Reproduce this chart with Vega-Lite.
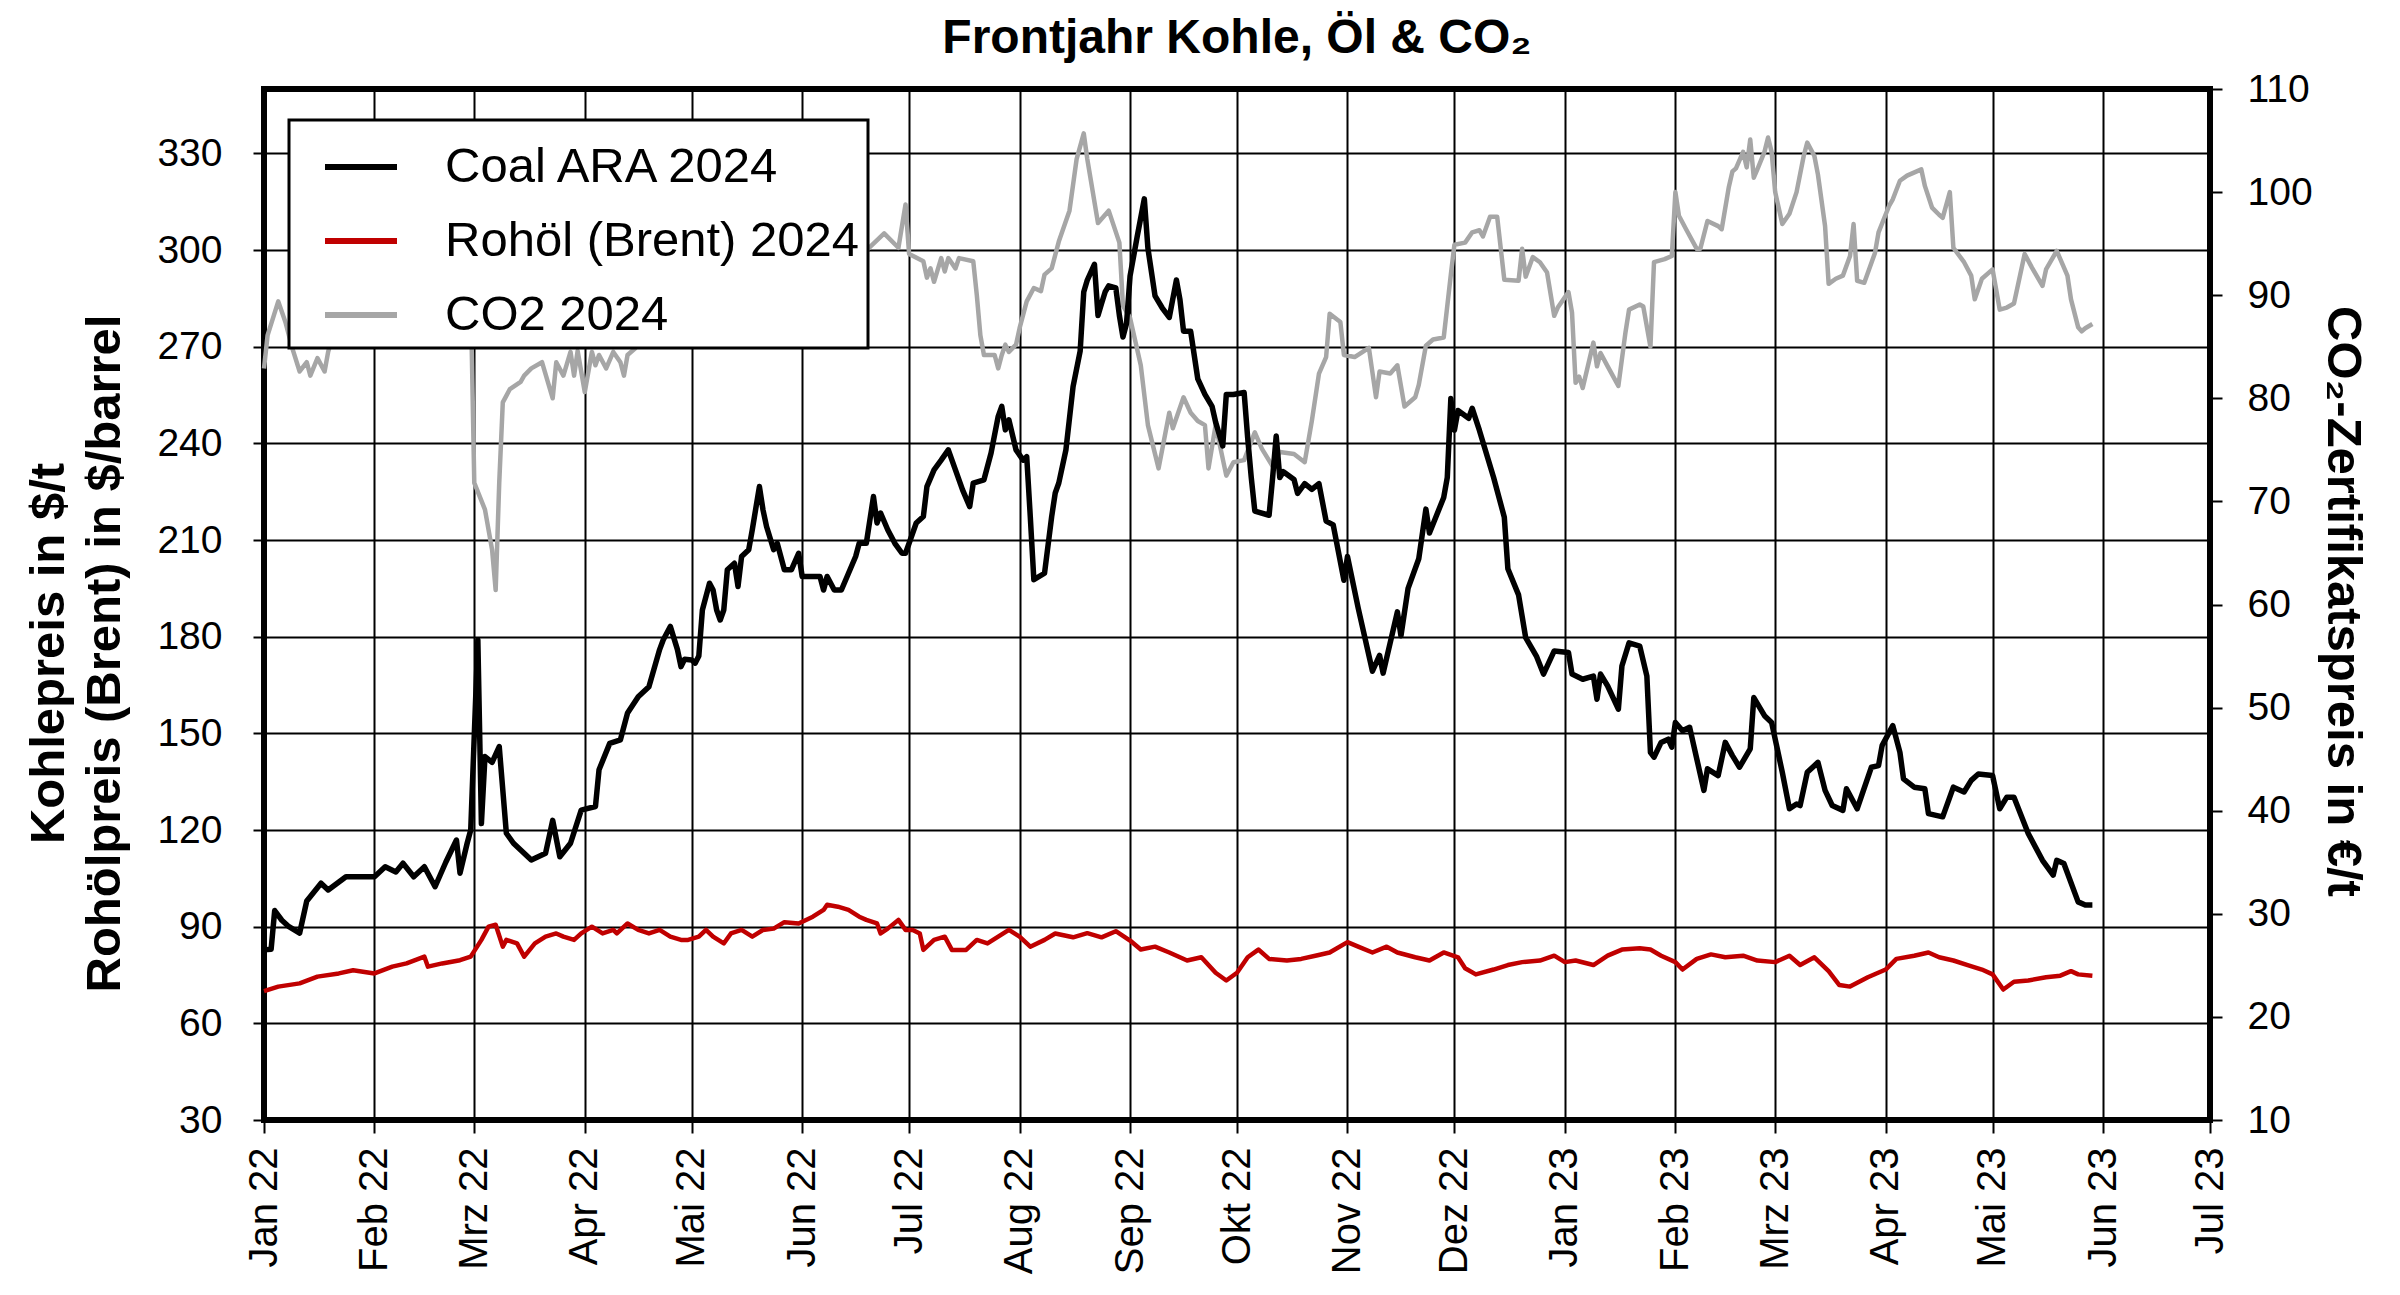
{
  "$schema": "https://vega.github.io/schema/vega-lite/v6.json",
  "autosize": {"type": "none"},
  "padding": {"left": 264, "top": 89, "right": 190, "bottom": 175},
  "width": 1946,
  "height": 1031,
  "background": "white",
  "title": {
    "text": "Frontjahr Kohle, Öl & CO₂",
    "font": "Liberation Sans",
    "fontSize": 48,
    "fontWeight": "bold",
    "color": "black",
    "anchor": "middle",
    "frame": "group",
    "baseline": "alphabetic",
    "offset": 26,
    "dy": 57
  },
  "datasets": {
    "coal": [
      {"d": "2022-01-01", "s": "Coal ARA 2024", "v": 82.8},
      {"d": "2022-01-03", "s": "Coal ARA 2024", "v": 83},
      {"d": "2022-01-04", "s": "Coal ARA 2024", "v": 95},
      {"d": "2022-01-06", "s": "Coal ARA 2024", "v": 92},
      {"d": "2022-01-08", "s": "Coal ARA 2024", "v": 90},
      {"d": "2022-01-11", "s": "Coal ARA 2024", "v": 88},
      {"d": "2022-01-13", "s": "Coal ARA 2024", "v": 98},
      {"d": "2022-01-17", "s": "Coal ARA 2024", "v": 103.5},
      {"d": "2022-01-19", "s": "Coal ARA 2024", "v": 101.4},
      {"d": "2022-01-24", "s": "Coal ARA 2024", "v": 105.5},
      {"d": "2022-02-01", "s": "Coal ARA 2024", "v": 105.5},
      {"d": "2022-02-04", "s": "Coal ARA 2024", "v": 108.6},
      {"d": "2022-02-07", "s": "Coal ARA 2024", "v": 107},
      {"d": "2022-02-09", "s": "Coal ARA 2024", "v": 109.7},
      {"d": "2022-02-12", "s": "Coal ARA 2024", "v": 105.5},
      {"d": "2022-02-15", "s": "Coal ARA 2024", "v": 108.6},
      {"d": "2022-02-18", "s": "Coal ARA 2024", "v": 102.4},
      {"d": "2022-02-21", "s": "Coal ARA 2024", "v": 110},
      {"d": "2022-02-24", "s": "Coal ARA 2024", "v": 116.9},
      {"d": "2022-02-25", "s": "Coal ARA 2024", "v": 106.6},
      {"d": "2022-02-27", "s": "Coal ARA 2024", "v": 115.9},
      {"d": "2022-02-28", "s": "Coal ARA 2024", "v": 120},
      {"d": "2022-03-02", "s": "Coal ARA 2024", "v": 179},
      {"d": "2022-03-03", "s": "Coal ARA 2024", "v": 122},
      {"d": "2022-03-04", "s": "Coal ARA 2024", "v": 142.8},
      {"d": "2022-03-06", "s": "Coal ARA 2024", "v": 141},
      {"d": "2022-03-08", "s": "Coal ARA 2024", "v": 145.9},
      {"d": "2022-03-10", "s": "Coal ARA 2024", "v": 119},
      {"d": "2022-03-12", "s": "Coal ARA 2024", "v": 115.9},
      {"d": "2022-03-17", "s": "Coal ARA 2024", "v": 110.7},
      {"d": "2022-03-21", "s": "Coal ARA 2024", "v": 112.8},
      {"d": "2022-03-23", "s": "Coal ARA 2024", "v": 123},
      {"d": "2022-03-25", "s": "Coal ARA 2024", "v": 111.7},
      {"d": "2022-03-28", "s": "Coal ARA 2024", "v": 115.9},
      {"d": "2022-03-31", "s": "Coal ARA 2024", "v": 126.2},
      {"d": "2022-04-04", "s": "Coal ARA 2024", "v": 127.3},
      {"d": "2022-04-05", "s": "Coal ARA 2024", "v": 138.7},
      {"d": "2022-04-08", "s": "Coal ARA 2024", "v": 146.9},
      {"d": "2022-04-11", "s": "Coal ARA 2024", "v": 148},
      {"d": "2022-04-13", "s": "Coal ARA 2024", "v": 156.3},
      {"d": "2022-04-16", "s": "Coal ARA 2024", "v": 161.4},
      {"d": "2022-04-19", "s": "Coal ARA 2024", "v": 164.5},
      {"d": "2022-04-22", "s": "Coal ARA 2024", "v": 176},
      {"d": "2022-04-23", "s": "Coal ARA 2024", "v": 179},
      {"d": "2022-04-25", "s": "Coal ARA 2024", "v": 183.2},
      {"d": "2022-04-27", "s": "Coal ARA 2024", "v": 176},
      {"d": "2022-04-28", "s": "Coal ARA 2024", "v": 170.7},
      {"d": "2022-04-29", "s": "Coal ARA 2024", "v": 173},
      {"d": "2022-05-01", "s": "Coal ARA 2024", "v": 172.8},
      {"d": "2022-05-02", "s": "Coal ARA 2024", "v": 171.8},
      {"d": "2022-05-03", "s": "Coal ARA 2024", "v": 174},
      {"d": "2022-05-04", "s": "Coal ARA 2024", "v": 188.3},
      {"d": "2022-05-06", "s": "Coal ARA 2024", "v": 196.6},
      {"d": "2022-05-07", "s": "Coal ARA 2024", "v": 194.5},
      {"d": "2022-05-08", "s": "Coal ARA 2024", "v": 188.3},
      {"d": "2022-05-09", "s": "Coal ARA 2024", "v": 185.2},
      {"d": "2022-05-10", "s": "Coal ARA 2024", "v": 188.3},
      {"d": "2022-05-11", "s": "Coal ARA 2024", "v": 200.8},
      {"d": "2022-05-13", "s": "Coal ARA 2024", "v": 202.8},
      {"d": "2022-05-14", "s": "Coal ARA 2024", "v": 195.6},
      {"d": "2022-05-15", "s": "Coal ARA 2024", "v": 204.9},
      {"d": "2022-05-17", "s": "Coal ARA 2024", "v": 207},
      {"d": "2022-05-18", "s": "Coal ARA 2024", "v": 213.2},
      {"d": "2022-05-20", "s": "Coal ARA 2024", "v": 226.6},
      {"d": "2022-05-21", "s": "Coal ARA 2024", "v": 219.4},
      {"d": "2022-05-22", "s": "Coal ARA 2024", "v": 214.2},
      {"d": "2022-05-24", "s": "Coal ARA 2024", "v": 207},
      {"d": "2022-05-25", "s": "Coal ARA 2024", "v": 209},
      {"d": "2022-05-27", "s": "Coal ARA 2024", "v": 200.8},
      {"d": "2022-05-29", "s": "Coal ARA 2024", "v": 200.8},
      {"d": "2022-05-31", "s": "Coal ARA 2024", "v": 205.9},
      {"d": "2022-06-01", "s": "Coal ARA 2024", "v": 198.7},
      {"d": "2022-06-03", "s": "Coal ARA 2024", "v": 198.7},
      {"d": "2022-06-06", "s": "Coal ARA 2024", "v": 198.7},
      {"d": "2022-06-07", "s": "Coal ARA 2024", "v": 194.5},
      {"d": "2022-06-08", "s": "Coal ARA 2024", "v": 198.7},
      {"d": "2022-06-10", "s": "Coal ARA 2024", "v": 194.5},
      {"d": "2022-06-12", "s": "Coal ARA 2024", "v": 194.5},
      {"d": "2022-06-14", "s": "Coal ARA 2024", "v": 199.7},
      {"d": "2022-06-16", "s": "Coal ARA 2024", "v": 204.9},
      {"d": "2022-06-17", "s": "Coal ARA 2024", "v": 209},
      {"d": "2022-06-19", "s": "Coal ARA 2024", "v": 209},
      {"d": "2022-06-21", "s": "Coal ARA 2024", "v": 223.5},
      {"d": "2022-06-22", "s": "Coal ARA 2024", "v": 215.3},
      {"d": "2022-06-23", "s": "Coal ARA 2024", "v": 218.4},
      {"d": "2022-06-25", "s": "Coal ARA 2024", "v": 213.2},
      {"d": "2022-06-27", "s": "Coal ARA 2024", "v": 209},
      {"d": "2022-06-29", "s": "Coal ARA 2024", "v": 205.9},
      {"d": "2022-06-30", "s": "Coal ARA 2024", "v": 205.9},
      {"d": "2022-07-01", "s": "Coal ARA 2024", "v": 209},
      {"d": "2022-07-03", "s": "Coal ARA 2024", "v": 215.3},
      {"d": "2022-07-05", "s": "Coal ARA 2024", "v": 217.3},
      {"d": "2022-07-06", "s": "Coal ARA 2024", "v": 226.6},
      {"d": "2022-07-08", "s": "Coal ARA 2024", "v": 231.8},
      {"d": "2022-07-10", "s": "Coal ARA 2024", "v": 234.8},
      {"d": "2022-07-12", "s": "Coal ARA 2024", "v": 238},
      {"d": "2022-07-14", "s": "Coal ARA 2024", "v": 231.8},
      {"d": "2022-07-16", "s": "Coal ARA 2024", "v": 225.6},
      {"d": "2022-07-18", "s": "Coal ARA 2024", "v": 220.4},
      {"d": "2022-07-19", "s": "Coal ARA 2024", "v": 227.7},
      {"d": "2022-07-22", "s": "Coal ARA 2024", "v": 228.7},
      {"d": "2022-07-24", "s": "Coal ARA 2024", "v": 237},
      {"d": "2022-07-26", "s": "Coal ARA 2024", "v": 248.4},
      {"d": "2022-07-27", "s": "Coal ARA 2024", "v": 251.5},
      {"d": "2022-07-28", "s": "Coal ARA 2024", "v": 244.2},
      {"d": "2022-07-29", "s": "Coal ARA 2024", "v": 247.3},
      {"d": "2022-07-31", "s": "Coal ARA 2024", "v": 238},
      {"d": "2022-08-02", "s": "Coal ARA 2024", "v": 234.8},
      {"d": "2022-08-03", "s": "Coal ARA 2024", "v": 235.9},
      {"d": "2022-08-04", "s": "Coal ARA 2024", "v": 217.3},
      {"d": "2022-08-05", "s": "Coal ARA 2024", "v": 197.7},
      {"d": "2022-08-08", "s": "Coal ARA 2024", "v": 199.7},
      {"d": "2022-08-10", "s": "Coal ARA 2024", "v": 217.3},
      {"d": "2022-08-11", "s": "Coal ARA 2024", "v": 224.6},
      {"d": "2022-08-12", "s": "Coal ARA 2024", "v": 227.7},
      {"d": "2022-08-14", "s": "Coal ARA 2024", "v": 238},
      {"d": "2022-08-16", "s": "Coal ARA 2024", "v": 257.6},
      {"d": "2022-08-18", "s": "Coal ARA 2024", "v": 268.7},
      {"d": "2022-08-19", "s": "Coal ARA 2024", "v": 287},
      {"d": "2022-08-20", "s": "Coal ARA 2024", "v": 290.7},
      {"d": "2022-08-22", "s": "Coal ARA 2024", "v": 295.6},
      {"d": "2022-08-23", "s": "Coal ARA 2024", "v": 279.7},
      {"d": "2022-08-24", "s": "Coal ARA 2024", "v": 283.4},
      {"d": "2022-08-25", "s": "Coal ARA 2024", "v": 287},
      {"d": "2022-08-26", "s": "Coal ARA 2024", "v": 288.9},
      {"d": "2022-08-28", "s": "Coal ARA 2024", "v": 288.3},
      {"d": "2022-08-29", "s": "Coal ARA 2024", "v": 279.7},
      {"d": "2022-08-30", "s": "Coal ARA 2024", "v": 273},
      {"d": "2022-08-31", "s": "Coal ARA 2024", "v": 277.2},
      {"d": "2022-09-01", "s": "Coal ARA 2024", "v": 292},
      {"d": "2022-09-03", "s": "Coal ARA 2024", "v": 304.2},
      {"d": "2022-09-05", "s": "Coal ARA 2024", "v": 315.9},
      {"d": "2022-09-06", "s": "Coal ARA 2024", "v": 300.6},
      {"d": "2022-09-08", "s": "Coal ARA 2024", "v": 285.8},
      {"d": "2022-09-10", "s": "Coal ARA 2024", "v": 282.1},
      {"d": "2022-09-12", "s": "Coal ARA 2024", "v": 279.1},
      {"d": "2022-09-14", "s": "Coal ARA 2024", "v": 290.7},
      {"d": "2022-09-15", "s": "Coal ARA 2024", "v": 284.6},
      {"d": "2022-09-16", "s": "Coal ARA 2024", "v": 274.8},
      {"d": "2022-09-18", "s": "Coal ARA 2024", "v": 274.8},
      {"d": "2022-09-20", "s": "Coal ARA 2024", "v": 260},
      {"d": "2022-09-22", "s": "Coal ARA 2024", "v": 255.2},
      {"d": "2022-09-24", "s": "Coal ARA 2024", "v": 251.5},
      {"d": "2022-09-25", "s": "Coal ARA 2024", "v": 246.6},
      {"d": "2022-09-27", "s": "Coal ARA 2024", "v": 239.2},
      {"d": "2022-09-28", "s": "Coal ARA 2024", "v": 255.2},
      {"d": "2022-09-30", "s": "Coal ARA 2024", "v": 255.2},
      {"d": "2022-10-03", "s": "Coal ARA 2024", "v": 255.8},
      {"d": "2022-10-04", "s": "Coal ARA 2024", "v": 241.7},
      {"d": "2022-10-05", "s": "Coal ARA 2024", "v": 229.4},
      {"d": "2022-10-06", "s": "Coal ARA 2024", "v": 219},
      {"d": "2022-10-10", "s": "Coal ARA 2024", "v": 217.7},
      {"d": "2022-10-11", "s": "Coal ARA 2024", "v": 229.4},
      {"d": "2022-10-12", "s": "Coal ARA 2024", "v": 242.3},
      {"d": "2022-10-13", "s": "Coal ARA 2024", "v": 229.4},
      {"d": "2022-10-14", "s": "Coal ARA 2024", "v": 231.2},
      {"d": "2022-10-17", "s": "Coal ARA 2024", "v": 228.8},
      {"d": "2022-10-18", "s": "Coal ARA 2024", "v": 224.5},
      {"d": "2022-10-20", "s": "Coal ARA 2024", "v": 227.5},
      {"d": "2022-10-22", "s": "Coal ARA 2024", "v": 225.7},
      {"d": "2022-10-24", "s": "Coal ARA 2024", "v": 227.5},
      {"d": "2022-10-26", "s": "Coal ARA 2024", "v": 215.9},
      {"d": "2022-10-28", "s": "Coal ARA 2024", "v": 214.7},
      {"d": "2022-10-31", "s": "Coal ARA 2024", "v": 197.5},
      {"d": "2022-11-01", "s": "Coal ARA 2024", "v": 204.9},
      {"d": "2022-11-04", "s": "Coal ARA 2024", "v": 188.9},
      {"d": "2022-11-08", "s": "Coal ARA 2024", "v": 169.3},
      {"d": "2022-11-10", "s": "Coal ARA 2024", "v": 174.2},
      {"d": "2022-11-11", "s": "Coal ARA 2024", "v": 168.7},
      {"d": "2022-11-15", "s": "Coal ARA 2024", "v": 187.7},
      {"d": "2022-11-16", "s": "Coal ARA 2024", "v": 180.3},
      {"d": "2022-11-18", "s": "Coal ARA 2024", "v": 195},
      {"d": "2022-11-21", "s": "Coal ARA 2024", "v": 204.2},
      {"d": "2022-11-23", "s": "Coal ARA 2024", "v": 219.6},
      {"d": "2022-11-24", "s": "Coal ARA 2024", "v": 212.2},
      {"d": "2022-11-28", "s": "Coal ARA 2024", "v": 223.2},
      {"d": "2022-11-29", "s": "Coal ARA 2024", "v": 229.4},
      {"d": "2022-11-30", "s": "Coal ARA 2024", "v": 253.9},
      {"d": "2022-12-01", "s": "Coal ARA 2024", "v": 244.1},
      {"d": "2022-12-02", "s": "Coal ARA 2024", "v": 250.2},
      {"d": "2022-12-05", "s": "Coal ARA 2024", "v": 247.8},
      {"d": "2022-12-06", "s": "Coal ARA 2024", "v": 250.9},
      {"d": "2022-12-08", "s": "Coal ARA 2024", "v": 244.1},
      {"d": "2022-12-12", "s": "Coal ARA 2024", "v": 229.4},
      {"d": "2022-12-15", "s": "Coal ARA 2024", "v": 217.1},
      {"d": "2022-12-16", "s": "Coal ARA 2024", "v": 201.1},
      {"d": "2022-12-19", "s": "Coal ARA 2024", "v": 193},
      {"d": "2022-12-21", "s": "Coal ARA 2024", "v": 179.7},
      {"d": "2022-12-24", "s": "Coal ARA 2024", "v": 174},
      {"d": "2022-12-26", "s": "Coal ARA 2024", "v": 168.4},
      {"d": "2022-12-29", "s": "Coal ARA 2024", "v": 175.6},
      {"d": "2023-01-02", "s": "Coal ARA 2024", "v": 175.1},
      {"d": "2023-01-03", "s": "Coal ARA 2024", "v": 168.4},
      {"d": "2023-01-06", "s": "Coal ARA 2024", "v": 166.8},
      {"d": "2023-01-09", "s": "Coal ARA 2024", "v": 167.8},
      {"d": "2023-01-10", "s": "Coal ARA 2024", "v": 160.6},
      {"d": "2023-01-11", "s": "Coal ARA 2024", "v": 168.4},
      {"d": "2023-01-13", "s": "Coal ARA 2024", "v": 164.7},
      {"d": "2023-01-16", "s": "Coal ARA 2024", "v": 157.5},
      {"d": "2023-01-17", "s": "Coal ARA 2024", "v": 170.9},
      {"d": "2023-01-19", "s": "Coal ARA 2024", "v": 178.1},
      {"d": "2023-01-22", "s": "Coal ARA 2024", "v": 177.1},
      {"d": "2023-01-24", "s": "Coal ARA 2024", "v": 167.8},
      {"d": "2023-01-25", "s": "Coal ARA 2024", "v": 144.1},
      {"d": "2023-01-26", "s": "Coal ARA 2024", "v": 142.6},
      {"d": "2023-01-28", "s": "Coal ARA 2024", "v": 147.2},
      {"d": "2023-01-30", "s": "Coal ARA 2024", "v": 148.2},
      {"d": "2023-01-31", "s": "Coal ARA 2024", "v": 145.7},
      {"d": "2023-02-01", "s": "Coal ARA 2024", "v": 153.4},
      {"d": "2023-02-03", "s": "Coal ARA 2024", "v": 150.8},
      {"d": "2023-02-05", "s": "Coal ARA 2024", "v": 151.9},
      {"d": "2023-02-07", "s": "Coal ARA 2024", "v": 142.1},
      {"d": "2023-02-09", "s": "Coal ARA 2024", "v": 132.3},
      {"d": "2023-02-10", "s": "Coal ARA 2024", "v": 139},
      {"d": "2023-02-13", "s": "Coal ARA 2024", "v": 136.9},
      {"d": "2023-02-15", "s": "Coal ARA 2024", "v": 147.2},
      {"d": "2023-02-17", "s": "Coal ARA 2024", "v": 143.1},
      {"d": "2023-02-19", "s": "Coal ARA 2024", "v": 139.5},
      {"d": "2023-02-22", "s": "Coal ARA 2024", "v": 145.2},
      {"d": "2023-02-23", "s": "Coal ARA 2024", "v": 161.1},
      {"d": "2023-02-26", "s": "Coal ARA 2024", "v": 155.5},
      {"d": "2023-02-28", "s": "Coal ARA 2024", "v": 153.4},
      {"d": "2023-03-03", "s": "Coal ARA 2024", "v": 137.9},
      {"d": "2023-03-05", "s": "Coal ARA 2024", "v": 126.6},
      {"d": "2023-03-07", "s": "Coal ARA 2024", "v": 128.1},
      {"d": "2023-03-08", "s": "Coal ARA 2024", "v": 127.6},
      {"d": "2023-03-10", "s": "Coal ARA 2024", "v": 137.9},
      {"d": "2023-03-13", "s": "Coal ARA 2024", "v": 141},
      {"d": "2023-03-15", "s": "Coal ARA 2024", "v": 132.3},
      {"d": "2023-03-17", "s": "Coal ARA 2024", "v": 127.6},
      {"d": "2023-03-20", "s": "Coal ARA 2024", "v": 126.1},
      {"d": "2023-03-21", "s": "Coal ARA 2024", "v": 132.8},
      {"d": "2023-03-24", "s": "Coal ARA 2024", "v": 126.6},
      {"d": "2023-03-28", "s": "Coal ARA 2024", "v": 139.5},
      {"d": "2023-03-30", "s": "Coal ARA 2024", "v": 140},
      {"d": "2023-03-31", "s": "Coal ARA 2024", "v": 146.2},
      {"d": "2023-04-03", "s": "Coal ARA 2024", "v": 152.4},
      {"d": "2023-04-05", "s": "Coal ARA 2024", "v": 144.1},
      {"d": "2023-04-06", "s": "Coal ARA 2024", "v": 135.9},
      {"d": "2023-04-09", "s": "Coal ARA 2024", "v": 133.3},
      {"d": "2023-04-12", "s": "Coal ARA 2024", "v": 132.8},
      {"d": "2023-04-13", "s": "Coal ARA 2024", "v": 125.1},
      {"d": "2023-04-17", "s": "Coal ARA 2024", "v": 124.1},
      {"d": "2023-04-20", "s": "Coal ARA 2024", "v": 133.3},
      {"d": "2023-04-23", "s": "Coal ARA 2024", "v": 131.8},
      {"d": "2023-04-25", "s": "Coal ARA 2024", "v": 135.4},
      {"d": "2023-04-27", "s": "Coal ARA 2024", "v": 137.4},
      {"d": "2023-05-01", "s": "Coal ARA 2024", "v": 136.9},
      {"d": "2023-05-03", "s": "Coal ARA 2024", "v": 126.6},
      {"d": "2023-05-05", "s": "Coal ARA 2024", "v": 130.2},
      {"d": "2023-05-07", "s": "Coal ARA 2024", "v": 130.2},
      {"d": "2023-05-11", "s": "Coal ARA 2024", "v": 118.9},
      {"d": "2023-05-15", "s": "Coal ARA 2024", "v": 110.6},
      {"d": "2023-05-18", "s": "Coal ARA 2024", "v": 106},
      {"d": "2023-05-19", "s": "Coal ARA 2024", "v": 110.6},
      {"d": "2023-05-21", "s": "Coal ARA 2024", "v": 109.6},
      {"d": "2023-05-25", "s": "Coal ARA 2024", "v": 97.7},
      {"d": "2023-05-27", "s": "Coal ARA 2024", "v": 96.7},
      {"d": "2023-05-29", "s": "Coal ARA 2024", "v": 96.7}
    ],
    "oil": [
      {"d": "2022-01-01", "s": "Rohöl (Brent) 2024", "v": 70},
      {"d": "2022-01-05", "s": "Rohöl (Brent) 2024", "v": 71.4},
      {"d": "2022-01-11", "s": "Rohöl (Brent) 2024", "v": 72.4},
      {"d": "2022-01-16", "s": "Rohöl (Brent) 2024", "v": 74.5},
      {"d": "2022-01-22", "s": "Rohöl (Brent) 2024", "v": 75.5},
      {"d": "2022-01-26", "s": "Rohöl (Brent) 2024", "v": 76.5},
      {"d": "2022-02-01", "s": "Rohöl (Brent) 2024", "v": 75.5},
      {"d": "2022-02-06", "s": "Rohöl (Brent) 2024", "v": 77.6},
      {"d": "2022-02-10", "s": "Rohöl (Brent) 2024", "v": 78.6},
      {"d": "2022-02-15", "s": "Rohöl (Brent) 2024", "v": 80.7},
      {"d": "2022-02-16", "s": "Rohöl (Brent) 2024", "v": 77.6},
      {"d": "2022-02-20", "s": "Rohöl (Brent) 2024", "v": 78.6},
      {"d": "2022-02-25", "s": "Rohöl (Brent) 2024", "v": 79.6},
      {"d": "2022-02-28", "s": "Rohöl (Brent) 2024", "v": 80.7},
      {"d": "2022-03-03", "s": "Rohöl (Brent) 2024", "v": 85.9},
      {"d": "2022-03-05", "s": "Rohöl (Brent) 2024", "v": 90},
      {"d": "2022-03-07", "s": "Rohöl (Brent) 2024", "v": 90.6},
      {"d": "2022-03-09", "s": "Rohöl (Brent) 2024", "v": 83.8},
      {"d": "2022-03-10", "s": "Rohöl (Brent) 2024", "v": 85.9},
      {"d": "2022-03-13", "s": "Rohöl (Brent) 2024", "v": 84.8},
      {"d": "2022-03-15", "s": "Rohöl (Brent) 2024", "v": 80.7},
      {"d": "2022-03-18", "s": "Rohöl (Brent) 2024", "v": 84.8},
      {"d": "2022-03-21", "s": "Rohöl (Brent) 2024", "v": 86.9},
      {"d": "2022-03-24", "s": "Rohöl (Brent) 2024", "v": 87.9},
      {"d": "2022-03-26", "s": "Rohöl (Brent) 2024", "v": 86.9},
      {"d": "2022-03-29", "s": "Rohöl (Brent) 2024", "v": 85.9},
      {"d": "2022-03-31", "s": "Rohöl (Brent) 2024", "v": 87.9},
      {"d": "2022-04-03", "s": "Rohöl (Brent) 2024", "v": 90},
      {"d": "2022-04-06", "s": "Rohöl (Brent) 2024", "v": 87.9},
      {"d": "2022-04-09", "s": "Rohöl (Brent) 2024", "v": 89},
      {"d": "2022-04-10", "s": "Rohöl (Brent) 2024", "v": 87.9},
      {"d": "2022-04-13", "s": "Rohöl (Brent) 2024", "v": 91},
      {"d": "2022-04-16", "s": "Rohöl (Brent) 2024", "v": 89},
      {"d": "2022-04-19", "s": "Rohöl (Brent) 2024", "v": 87.9},
      {"d": "2022-04-22", "s": "Rohöl (Brent) 2024", "v": 89},
      {"d": "2022-04-25", "s": "Rohöl (Brent) 2024", "v": 86.9},
      {"d": "2022-04-28", "s": "Rohöl (Brent) 2024", "v": 85.9},
      {"d": "2022-04-30", "s": "Rohöl (Brent) 2024", "v": 85.9},
      {"d": "2022-05-03", "s": "Rohöl (Brent) 2024", "v": 86.9},
      {"d": "2022-05-05", "s": "Rohöl (Brent) 2024", "v": 89},
      {"d": "2022-05-07", "s": "Rohöl (Brent) 2024", "v": 86.9},
      {"d": "2022-05-10", "s": "Rohöl (Brent) 2024", "v": 84.8},
      {"d": "2022-05-12", "s": "Rohöl (Brent) 2024", "v": 87.9},
      {"d": "2022-05-15", "s": "Rohöl (Brent) 2024", "v": 89},
      {"d": "2022-05-18", "s": "Rohöl (Brent) 2024", "v": 86.9},
      {"d": "2022-05-21", "s": "Rohöl (Brent) 2024", "v": 89},
      {"d": "2022-05-24", "s": "Rohöl (Brent) 2024", "v": 89.4},
      {"d": "2022-05-27", "s": "Rohöl (Brent) 2024", "v": 91.4},
      {"d": "2022-05-31", "s": "Rohöl (Brent) 2024", "v": 91},
      {"d": "2022-06-04", "s": "Rohöl (Brent) 2024", "v": 93.1},
      {"d": "2022-06-07", "s": "Rohöl (Brent) 2024", "v": 95.2},
      {"d": "2022-06-08", "s": "Rohöl (Brent) 2024", "v": 96.8},
      {"d": "2022-06-11", "s": "Rohöl (Brent) 2024", "v": 96.2},
      {"d": "2022-06-14", "s": "Rohöl (Brent) 2024", "v": 95.2},
      {"d": "2022-06-17", "s": "Rohöl (Brent) 2024", "v": 93.1},
      {"d": "2022-06-19", "s": "Rohöl (Brent) 2024", "v": 92.1},
      {"d": "2022-06-22", "s": "Rohöl (Brent) 2024", "v": 91},
      {"d": "2022-06-23", "s": "Rohöl (Brent) 2024", "v": 87.9},
      {"d": "2022-06-25", "s": "Rohöl (Brent) 2024", "v": 89.4},
      {"d": "2022-06-28", "s": "Rohöl (Brent) 2024", "v": 92.1},
      {"d": "2022-06-30", "s": "Rohöl (Brent) 2024", "v": 89},
      {"d": "2022-07-02", "s": "Rohöl (Brent) 2024", "v": 89},
      {"d": "2022-07-04", "s": "Rohöl (Brent) 2024", "v": 87.9},
      {"d": "2022-07-05", "s": "Rohöl (Brent) 2024", "v": 82.8},
      {"d": "2022-07-08", "s": "Rohöl (Brent) 2024", "v": 85.9},
      {"d": "2022-07-11", "s": "Rohöl (Brent) 2024", "v": 86.9},
      {"d": "2022-07-13", "s": "Rohöl (Brent) 2024", "v": 82.8},
      {"d": "2022-07-17", "s": "Rohöl (Brent) 2024", "v": 82.8},
      {"d": "2022-07-20", "s": "Rohöl (Brent) 2024", "v": 85.9},
      {"d": "2022-07-23", "s": "Rohöl (Brent) 2024", "v": 84.8},
      {"d": "2022-07-26", "s": "Rohöl (Brent) 2024", "v": 86.9},
      {"d": "2022-07-29", "s": "Rohöl (Brent) 2024", "v": 89},
      {"d": "2022-08-01", "s": "Rohöl (Brent) 2024", "v": 86.9},
      {"d": "2022-08-04", "s": "Rohöl (Brent) 2024", "v": 83.8},
      {"d": "2022-08-08", "s": "Rohöl (Brent) 2024", "v": 85.9},
      {"d": "2022-08-11", "s": "Rohöl (Brent) 2024", "v": 87.9},
      {"d": "2022-08-16", "s": "Rohöl (Brent) 2024", "v": 86.7},
      {"d": "2022-08-20", "s": "Rohöl (Brent) 2024", "v": 88},
      {"d": "2022-08-24", "s": "Rohöl (Brent) 2024", "v": 86.7},
      {"d": "2022-08-28", "s": "Rohöl (Brent) 2024", "v": 88.6},
      {"d": "2022-09-01", "s": "Rohöl (Brent) 2024", "v": 85.7},
      {"d": "2022-09-04", "s": "Rohöl (Brent) 2024", "v": 82.9},
      {"d": "2022-09-08", "s": "Rohöl (Brent) 2024", "v": 83.8},
      {"d": "2022-09-12", "s": "Rohöl (Brent) 2024", "v": 82},
      {"d": "2022-09-17", "s": "Rohöl (Brent) 2024", "v": 79.5},
      {"d": "2022-09-21", "s": "Rohöl (Brent) 2024", "v": 80.5},
      {"d": "2022-09-25", "s": "Rohöl (Brent) 2024", "v": 75.7},
      {"d": "2022-09-28", "s": "Rohöl (Brent) 2024", "v": 73.3},
      {"d": "2022-10-01", "s": "Rohöl (Brent) 2024", "v": 75.7},
      {"d": "2022-10-04", "s": "Rohöl (Brent) 2024", "v": 80.5},
      {"d": "2022-10-07", "s": "Rohöl (Brent) 2024", "v": 82.9},
      {"d": "2022-10-10", "s": "Rohöl (Brent) 2024", "v": 80},
      {"d": "2022-10-15", "s": "Rohöl (Brent) 2024", "v": 79.5},
      {"d": "2022-10-19", "s": "Rohöl (Brent) 2024", "v": 80},
      {"d": "2022-10-23", "s": "Rohöl (Brent) 2024", "v": 81},
      {"d": "2022-10-27", "s": "Rohöl (Brent) 2024", "v": 82},
      {"d": "2022-11-01", "s": "Rohöl (Brent) 2024", "v": 85.2},
      {"d": "2022-11-04", "s": "Rohöl (Brent) 2024", "v": 83.8},
      {"d": "2022-11-08", "s": "Rohöl (Brent) 2024", "v": 82},
      {"d": "2022-11-12", "s": "Rohöl (Brent) 2024", "v": 83.8},
      {"d": "2022-11-15", "s": "Rohöl (Brent) 2024", "v": 82},
      {"d": "2022-11-20", "s": "Rohöl (Brent) 2024", "v": 80.5},
      {"d": "2022-11-24", "s": "Rohöl (Brent) 2024", "v": 79.5},
      {"d": "2022-11-28", "s": "Rohöl (Brent) 2024", "v": 82},
      {"d": "2022-12-02", "s": "Rohöl (Brent) 2024", "v": 80.5},
      {"d": "2022-12-04", "s": "Rohöl (Brent) 2024", "v": 77.1},
      {"d": "2022-12-07", "s": "Rohöl (Brent) 2024", "v": 75.2},
      {"d": "2022-12-12", "s": "Rohöl (Brent) 2024", "v": 76.7},
      {"d": "2022-12-16", "s": "Rohöl (Brent) 2024", "v": 78.1},
      {"d": "2022-12-20", "s": "Rohöl (Brent) 2024", "v": 79},
      {"d": "2022-12-25", "s": "Rohöl (Brent) 2024", "v": 79.5},
      {"d": "2022-12-29", "s": "Rohöl (Brent) 2024", "v": 81},
      {"d": "2023-01-01", "s": "Rohöl (Brent) 2024", "v": 79},
      {"d": "2023-01-04", "s": "Rohöl (Brent) 2024", "v": 79.5},
      {"d": "2023-01-09", "s": "Rohöl (Brent) 2024", "v": 78.1},
      {"d": "2023-01-13", "s": "Rohöl (Brent) 2024", "v": 81},
      {"d": "2023-01-17", "s": "Rohöl (Brent) 2024", "v": 82.9},
      {"d": "2023-01-22", "s": "Rohöl (Brent) 2024", "v": 83.3},
      {"d": "2023-01-25", "s": "Rohöl (Brent) 2024", "v": 82.9},
      {"d": "2023-01-28", "s": "Rohöl (Brent) 2024", "v": 81},
      {"d": "2023-02-01", "s": "Rohöl (Brent) 2024", "v": 79},
      {"d": "2023-02-03", "s": "Rohöl (Brent) 2024", "v": 76.7},
      {"d": "2023-02-07", "s": "Rohöl (Brent) 2024", "v": 80},
      {"d": "2023-02-11", "s": "Rohöl (Brent) 2024", "v": 81.4},
      {"d": "2023-02-15", "s": "Rohöl (Brent) 2024", "v": 80.5},
      {"d": "2023-02-20", "s": "Rohöl (Brent) 2024", "v": 81},
      {"d": "2023-02-24", "s": "Rohöl (Brent) 2024", "v": 79.5},
      {"d": "2023-03-01", "s": "Rohöl (Brent) 2024", "v": 79},
      {"d": "2023-03-05", "s": "Rohöl (Brent) 2024", "v": 81},
      {"d": "2023-03-08", "s": "Rohöl (Brent) 2024", "v": 78.1},
      {"d": "2023-03-12", "s": "Rohöl (Brent) 2024", "v": 80.5},
      {"d": "2023-03-16", "s": "Rohöl (Brent) 2024", "v": 76.2},
      {"d": "2023-03-19", "s": "Rohöl (Brent) 2024", "v": 71.9},
      {"d": "2023-03-22", "s": "Rohöl (Brent) 2024", "v": 71.4},
      {"d": "2023-03-27", "s": "Rohöl (Brent) 2024", "v": 74.3},
      {"d": "2023-04-01", "s": "Rohöl (Brent) 2024", "v": 76.7},
      {"d": "2023-04-04", "s": "Rohöl (Brent) 2024", "v": 80},
      {"d": "2023-04-09", "s": "Rohöl (Brent) 2024", "v": 81},
      {"d": "2023-04-13", "s": "Rohöl (Brent) 2024", "v": 82},
      {"d": "2023-04-16", "s": "Rohöl (Brent) 2024", "v": 80.5},
      {"d": "2023-04-20", "s": "Rohöl (Brent) 2024", "v": 79.5},
      {"d": "2023-04-24", "s": "Rohöl (Brent) 2024", "v": 78.1},
      {"d": "2023-04-28", "s": "Rohöl (Brent) 2024", "v": 76.7},
      {"d": "2023-05-01", "s": "Rohöl (Brent) 2024", "v": 75.2},
      {"d": "2023-05-04", "s": "Rohöl (Brent) 2024", "v": 70.5},
      {"d": "2023-05-07", "s": "Rohöl (Brent) 2024", "v": 72.9},
      {"d": "2023-05-11", "s": "Rohöl (Brent) 2024", "v": 73.3},
      {"d": "2023-05-16", "s": "Rohöl (Brent) 2024", "v": 74.3},
      {"d": "2023-05-20", "s": "Rohöl (Brent) 2024", "v": 74.8},
      {"d": "2023-05-23", "s": "Rohöl (Brent) 2024", "v": 76.2},
      {"d": "2023-05-25", "s": "Rohöl (Brent) 2024", "v": 75.2},
      {"d": "2023-05-29", "s": "Rohöl (Brent) 2024", "v": 74.8}
    ],
    "co2": [
      {"d": "2022-01-01", "s": "CO2 2024", "v": 82.9},
      {"d": "2022-01-02", "s": "CO2 2024", "v": 86.1},
      {"d": "2022-01-05", "s": "CO2 2024", "v": 89.4},
      {"d": "2022-01-07", "s": "CO2 2024", "v": 87.4},
      {"d": "2022-01-09", "s": "CO2 2024", "v": 84.8},
      {"d": "2022-01-11", "s": "CO2 2024", "v": 82.6},
      {"d": "2022-01-13", "s": "CO2 2024", "v": 83.5},
      {"d": "2022-01-14", "s": "CO2 2024", "v": 82.2},
      {"d": "2022-01-16", "s": "CO2 2024", "v": 83.9},
      {"d": "2022-01-18", "s": "CO2 2024", "v": 82.6},
      {"d": "2022-01-19", "s": "CO2 2024", "v": 84.5},
      {"d": "2022-01-21", "s": "CO2 2024", "v": 87},
      {"d": "2022-01-25", "s": "CO2 2024", "v": 86},
      {"d": "2022-01-28", "s": "CO2 2024", "v": 88},
      {"d": "2022-02-01", "s": "CO2 2024", "v": 90},
      {"d": "2022-02-04", "s": "CO2 2024", "v": 92},
      {"d": "2022-02-08", "s": "CO2 2024", "v": 95},
      {"d": "2022-02-11", "s": "CO2 2024", "v": 94},
      {"d": "2022-02-15", "s": "CO2 2024", "v": 96},
      {"d": "2022-02-18", "s": "CO2 2024", "v": 97},
      {"d": "2022-02-22", "s": "CO2 2024", "v": 94},
      {"d": "2022-02-25", "s": "CO2 2024", "v": 92},
      {"d": "2022-02-28", "s": "CO2 2024", "v": 90},
      {"d": "2022-03-01", "s": "CO2 2024", "v": 71.8},
      {"d": "2022-03-04", "s": "CO2 2024", "v": 69.2},
      {"d": "2022-03-06", "s": "CO2 2024", "v": 65.3},
      {"d": "2022-03-07", "s": "CO2 2024", "v": 61.4},
      {"d": "2022-03-08", "s": "CO2 2024", "v": 71.8},
      {"d": "2022-03-09", "s": "CO2 2024", "v": 79.6},
      {"d": "2022-03-11", "s": "CO2 2024", "v": 80.9},
      {"d": "2022-03-14", "s": "CO2 2024", "v": 81.6},
      {"d": "2022-03-15", "s": "CO2 2024", "v": 82.2},
      {"d": "2022-03-17", "s": "CO2 2024", "v": 82.9},
      {"d": "2022-03-20", "s": "CO2 2024", "v": 83.5},
      {"d": "2022-03-23", "s": "CO2 2024", "v": 80},
      {"d": "2022-03-24", "s": "CO2 2024", "v": 83.5},
      {"d": "2022-03-26", "s": "CO2 2024", "v": 82.2},
      {"d": "2022-03-28", "s": "CO2 2024", "v": 84.5},
      {"d": "2022-03-29", "s": "CO2 2024", "v": 82.2},
      {"d": "2022-03-30", "s": "CO2 2024", "v": 84.6},
      {"d": "2022-04-01", "s": "CO2 2024", "v": 80.6},
      {"d": "2022-04-03", "s": "CO2 2024", "v": 84.5},
      {"d": "2022-04-04", "s": "CO2 2024", "v": 83.2},
      {"d": "2022-04-05", "s": "CO2 2024", "v": 84.2},
      {"d": "2022-04-07", "s": "CO2 2024", "v": 82.9},
      {"d": "2022-04-09", "s": "CO2 2024", "v": 84.5},
      {"d": "2022-04-11", "s": "CO2 2024", "v": 83.5},
      {"d": "2022-04-12", "s": "CO2 2024", "v": 82.2},
      {"d": "2022-04-13", "s": "CO2 2024", "v": 84.2},
      {"d": "2022-04-15", "s": "CO2 2024", "v": 84.8},
      {"d": "2022-04-20", "s": "CO2 2024", "v": 87},
      {"d": "2022-04-26", "s": "CO2 2024", "v": 86.5},
      {"d": "2022-05-02", "s": "CO2 2024", "v": 88},
      {"d": "2022-05-06", "s": "CO2 2024", "v": 90},
      {"d": "2022-05-12", "s": "CO2 2024", "v": 89},
      {"d": "2022-05-18", "s": "CO2 2024", "v": 91},
      {"d": "2022-05-24", "s": "CO2 2024", "v": 92},
      {"d": "2022-05-31", "s": "CO2 2024", "v": 93},
      {"d": "2022-06-06", "s": "CO2 2024", "v": 95},
      {"d": "2022-06-12", "s": "CO2 2024", "v": 93},
      {"d": "2022-06-18", "s": "CO2 2024", "v": 94},
      {"d": "2022-06-24", "s": "CO2 2024", "v": 96},
      {"d": "2022-06-28", "s": "CO2 2024", "v": 94.6},
      {"d": "2022-06-30", "s": "CO2 2024", "v": 98.8},
      {"d": "2022-07-01", "s": "CO2 2024", "v": 94},
      {"d": "2022-07-05", "s": "CO2 2024", "v": 93.3},
      {"d": "2022-07-06", "s": "CO2 2024", "v": 91.7},
      {"d": "2022-07-07", "s": "CO2 2024", "v": 92.6},
      {"d": "2022-07-08", "s": "CO2 2024", "v": 91.3},
      {"d": "2022-07-10", "s": "CO2 2024", "v": 93.6},
      {"d": "2022-07-11", "s": "CO2 2024", "v": 92.3},
      {"d": "2022-07-12", "s": "CO2 2024", "v": 93.6},
      {"d": "2022-07-14", "s": "CO2 2024", "v": 92.6},
      {"d": "2022-07-15", "s": "CO2 2024", "v": 93.6},
      {"d": "2022-07-19", "s": "CO2 2024", "v": 93.3},
      {"d": "2022-07-20", "s": "CO2 2024", "v": 90},
      {"d": "2022-07-21", "s": "CO2 2024", "v": 86.1},
      {"d": "2022-07-22", "s": "CO2 2024", "v": 84.2},
      {"d": "2022-07-25", "s": "CO2 2024", "v": 84.2},
      {"d": "2022-07-26", "s": "CO2 2024", "v": 82.9},
      {"d": "2022-07-27", "s": "CO2 2024", "v": 84.2},
      {"d": "2022-07-28", "s": "CO2 2024", "v": 85.2},
      {"d": "2022-07-29", "s": "CO2 2024", "v": 84.5},
      {"d": "2022-07-31", "s": "CO2 2024", "v": 85.2},
      {"d": "2022-08-01", "s": "CO2 2024", "v": 86.8},
      {"d": "2022-08-03", "s": "CO2 2024", "v": 89.4},
      {"d": "2022-08-05", "s": "CO2 2024", "v": 90.7},
      {"d": "2022-08-07", "s": "CO2 2024", "v": 90.4},
      {"d": "2022-08-08", "s": "CO2 2024", "v": 92},
      {"d": "2022-08-10", "s": "CO2 2024", "v": 92.6},
      {"d": "2022-08-12", "s": "CO2 2024", "v": 95.2},
      {"d": "2022-08-15", "s": "CO2 2024", "v": 98.2},
      {"d": "2022-08-17", "s": "CO2 2024", "v": 103.2},
      {"d": "2022-08-19", "s": "CO2 2024", "v": 105.7},
      {"d": "2022-08-20", "s": "CO2 2024", "v": 103.2},
      {"d": "2022-08-23", "s": "CO2 2024", "v": 97},
      {"d": "2022-08-26", "s": "CO2 2024", "v": 98.2},
      {"d": "2022-08-29", "s": "CO2 2024", "v": 95.1},
      {"d": "2022-08-30", "s": "CO2 2024", "v": 89},
      {"d": "2022-09-01", "s": "CO2 2024", "v": 87.8},
      {"d": "2022-09-04", "s": "CO2 2024", "v": 83.2},
      {"d": "2022-09-06", "s": "CO2 2024", "v": 77.4},
      {"d": "2022-09-09", "s": "CO2 2024", "v": 73.2},
      {"d": "2022-09-12", "s": "CO2 2024", "v": 78.6},
      {"d": "2022-09-13", "s": "CO2 2024", "v": 77.1},
      {"d": "2022-09-16", "s": "CO2 2024", "v": 80.1},
      {"d": "2022-09-18", "s": "CO2 2024", "v": 78.6},
      {"d": "2022-09-20", "s": "CO2 2024", "v": 77.8},
      {"d": "2022-09-22", "s": "CO2 2024", "v": 77.4},
      {"d": "2022-09-23", "s": "CO2 2024", "v": 73.2},
      {"d": "2022-09-25", "s": "CO2 2024", "v": 77.4},
      {"d": "2022-09-28", "s": "CO2 2024", "v": 72.5},
      {"d": "2022-09-30", "s": "CO2 2024", "v": 73.8},
      {"d": "2022-10-03", "s": "CO2 2024", "v": 74},
      {"d": "2022-10-06", "s": "CO2 2024", "v": 76.7},
      {"d": "2022-10-08", "s": "CO2 2024", "v": 75.1},
      {"d": "2022-10-11", "s": "CO2 2024", "v": 73.4},
      {"d": "2022-10-13", "s": "CO2 2024", "v": 74.8},
      {"d": "2022-10-17", "s": "CO2 2024", "v": 74.6},
      {"d": "2022-10-20", "s": "CO2 2024", "v": 73.8},
      {"d": "2022-10-22", "s": "CO2 2024", "v": 77.8},
      {"d": "2022-10-24", "s": "CO2 2024", "v": 82.4},
      {"d": "2022-10-26", "s": "CO2 2024", "v": 84},
      {"d": "2022-10-27", "s": "CO2 2024", "v": 88.2},
      {"d": "2022-10-30", "s": "CO2 2024", "v": 87.4},
      {"d": "2022-10-31", "s": "CO2 2024", "v": 84.2},
      {"d": "2022-11-03", "s": "CO2 2024", "v": 84},
      {"d": "2022-11-07", "s": "CO2 2024", "v": 84.9},
      {"d": "2022-11-09", "s": "CO2 2024", "v": 80.1},
      {"d": "2022-11-10", "s": "CO2 2024", "v": 82.6},
      {"d": "2022-11-13", "s": "CO2 2024", "v": 82.4},
      {"d": "2022-11-15", "s": "CO2 2024", "v": 83.2},
      {"d": "2022-11-17", "s": "CO2 2024", "v": 79.2},
      {"d": "2022-11-20", "s": "CO2 2024", "v": 80.1},
      {"d": "2022-11-21", "s": "CO2 2024", "v": 81.3},
      {"d": "2022-11-23", "s": "CO2 2024", "v": 85.1},
      {"d": "2022-11-25", "s": "CO2 2024", "v": 85.7},
      {"d": "2022-11-28", "s": "CO2 2024", "v": 85.9},
      {"d": "2022-11-30", "s": "CO2 2024", "v": 92},
      {"d": "2022-12-01", "s": "CO2 2024", "v": 94.9},
      {"d": "2022-12-04", "s": "CO2 2024", "v": 95.1},
      {"d": "2022-12-06", "s": "CO2 2024", "v": 96.1},
      {"d": "2022-12-08", "s": "CO2 2024", "v": 96.3},
      {"d": "2022-12-09", "s": "CO2 2024", "v": 95.7},
      {"d": "2022-12-11", "s": "CO2 2024", "v": 97.6},
      {"d": "2022-12-13", "s": "CO2 2024", "v": 97.6},
      {"d": "2022-12-15", "s": "CO2 2024", "v": 91.5},
      {"d": "2022-12-19", "s": "CO2 2024", "v": 91.4},
      {"d": "2022-12-20", "s": "CO2 2024", "v": 94.5},
      {"d": "2022-12-21", "s": "CO2 2024", "v": 91.8},
      {"d": "2022-12-23", "s": "CO2 2024", "v": 93.7},
      {"d": "2022-12-25", "s": "CO2 2024", "v": 93.2},
      {"d": "2022-12-27", "s": "CO2 2024", "v": 92.2},
      {"d": "2022-12-29", "s": "CO2 2024", "v": 88},
      {"d": "2022-12-30", "s": "CO2 2024", "v": 88.8},
      {"d": "2023-01-02", "s": "CO2 2024", "v": 90.3},
      {"d": "2023-01-03", "s": "CO2 2024", "v": 88.3},
      {"d": "2023-01-04", "s": "CO2 2024", "v": 81.5},
      {"d": "2023-01-05", "s": "CO2 2024", "v": 82.1},
      {"d": "2023-01-06", "s": "CO2 2024", "v": 81},
      {"d": "2023-01-09", "s": "CO2 2024", "v": 85.4},
      {"d": "2023-01-10", "s": "CO2 2024", "v": 83.1},
      {"d": "2023-01-11", "s": "CO2 2024", "v": 84.4},
      {"d": "2023-01-13", "s": "CO2 2024", "v": 83.1},
      {"d": "2023-01-16", "s": "CO2 2024", "v": 81.2},
      {"d": "2023-01-18", "s": "CO2 2024", "v": 86.4},
      {"d": "2023-01-19", "s": "CO2 2024", "v": 88.6},
      {"d": "2023-01-22", "s": "CO2 2024", "v": 89.1},
      {"d": "2023-01-23", "s": "CO2 2024", "v": 88.9},
      {"d": "2023-01-25", "s": "CO2 2024", "v": 85},
      {"d": "2023-01-26", "s": "CO2 2024", "v": 93.2},
      {"d": "2023-01-29", "s": "CO2 2024", "v": 93.5},
      {"d": "2023-01-31", "s": "CO2 2024", "v": 93.8},
      {"d": "2023-02-01", "s": "CO2 2024", "v": 100},
      {"d": "2023-02-02", "s": "CO2 2024", "v": 97.7},
      {"d": "2023-02-04", "s": "CO2 2024", "v": 96.4},
      {"d": "2023-02-07", "s": "CO2 2024", "v": 94.5},
      {"d": "2023-02-08", "s": "CO2 2024", "v": 94.5},
      {"d": "2023-02-10", "s": "CO2 2024", "v": 97.2},
      {"d": "2023-02-13", "s": "CO2 2024", "v": 96.7},
      {"d": "2023-02-14", "s": "CO2 2024", "v": 96.4},
      {"d": "2023-02-16", "s": "CO2 2024", "v": 100.5},
      {"d": "2023-02-17", "s": "CO2 2024", "v": 102},
      {"d": "2023-02-18", "s": "CO2 2024", "v": 102.3},
      {"d": "2023-02-20", "s": "CO2 2024", "v": 103.9},
      {"d": "2023-02-21", "s": "CO2 2024", "v": 102.4},
      {"d": "2023-02-22", "s": "CO2 2024", "v": 105.1},
      {"d": "2023-02-23", "s": "CO2 2024", "v": 101.4},
      {"d": "2023-02-24", "s": "CO2 2024", "v": 102.2},
      {"d": "2023-02-26", "s": "CO2 2024", "v": 103.9},
      {"d": "2023-02-27", "s": "CO2 2024", "v": 105.3},
      {"d": "2023-02-28", "s": "CO2 2024", "v": 103.9},
      {"d": "2023-03-01", "s": "CO2 2024", "v": 100},
      {"d": "2023-03-03", "s": "CO2 2024", "v": 96.9},
      {"d": "2023-03-05", "s": "CO2 2024", "v": 97.9},
      {"d": "2023-03-07", "s": "CO2 2024", "v": 100},
      {"d": "2023-03-09", "s": "CO2 2024", "v": 103.5},
      {"d": "2023-03-10", "s": "CO2 2024", "v": 104.8},
      {"d": "2023-03-12", "s": "CO2 2024", "v": 103.5},
      {"d": "2023-03-13", "s": "CO2 2024", "v": 101.7},
      {"d": "2023-03-15", "s": "CO2 2024", "v": 96.7},
      {"d": "2023-03-16", "s": "CO2 2024", "v": 91.1},
      {"d": "2023-03-18", "s": "CO2 2024", "v": 91.6},
      {"d": "2023-03-20", "s": "CO2 2024", "v": 91.9},
      {"d": "2023-03-22", "s": "CO2 2024", "v": 93.8},
      {"d": "2023-03-23", "s": "CO2 2024", "v": 96.9},
      {"d": "2023-03-24", "s": "CO2 2024", "v": 91.4},
      {"d": "2023-03-26", "s": "CO2 2024", "v": 91.2},
      {"d": "2023-03-29", "s": "CO2 2024", "v": 94.1},
      {"d": "2023-03-30", "s": "CO2 2024", "v": 96.1},
      {"d": "2023-04-02", "s": "CO2 2024", "v": 98.7},
      {"d": "2023-04-03", "s": "CO2 2024", "v": 99.3},
      {"d": "2023-04-05", "s": "CO2 2024", "v": 101.1},
      {"d": "2023-04-07", "s": "CO2 2024", "v": 101.6},
      {"d": "2023-04-11", "s": "CO2 2024", "v": 102.2},
      {"d": "2023-04-12", "s": "CO2 2024", "v": 100.6},
      {"d": "2023-04-14", "s": "CO2 2024", "v": 98.5},
      {"d": "2023-04-16", "s": "CO2 2024", "v": 97.8},
      {"d": "2023-04-17", "s": "CO2 2024", "v": 97.5},
      {"d": "2023-04-19", "s": "CO2 2024", "v": 100},
      {"d": "2023-04-20", "s": "CO2 2024", "v": 94.6},
      {"d": "2023-04-23", "s": "CO2 2024", "v": 93.2},
      {"d": "2023-04-25", "s": "CO2 2024", "v": 91.9},
      {"d": "2023-04-26", "s": "CO2 2024", "v": 89.6},
      {"d": "2023-04-28", "s": "CO2 2024", "v": 91.6},
      {"d": "2023-05-01", "s": "CO2 2024", "v": 92.5},
      {"d": "2023-05-03", "s": "CO2 2024", "v": 88.6},
      {"d": "2023-05-05", "s": "CO2 2024", "v": 88.8},
      {"d": "2023-05-07", "s": "CO2 2024", "v": 89.2},
      {"d": "2023-05-10", "s": "CO2 2024", "v": 94},
      {"d": "2023-05-12", "s": "CO2 2024", "v": 92.7},
      {"d": "2023-05-15", "s": "CO2 2024", "v": 90.9},
      {"d": "2023-05-16", "s": "CO2 2024", "v": 92.5},
      {"d": "2023-05-19", "s": "CO2 2024", "v": 94.3},
      {"d": "2023-05-20", "s": "CO2 2024", "v": 93.5},
      {"d": "2023-05-22", "s": "CO2 2024", "v": 91.9},
      {"d": "2023-05-23", "s": "CO2 2024", "v": 89.6},
      {"d": "2023-05-25", "s": "CO2 2024", "v": 86.9},
      {"d": "2023-05-26", "s": "CO2 2024", "v": 86.5},
      {"d": "2023-05-27", "s": "CO2 2024", "v": 86.8},
      {"d": "2023-05-29", "s": "CO2 2024", "v": 87.2}
    ]
  },
  "layer": [
    {
      "data": {"name": "co2"},
      "mark": {"type": "line", "strokeWidth": 4.5, "strokeJoin": "round"},
      "encoding": {
        "x": {
          "field": "d",
          "type": "temporal",
          "scale": {
            "type": "utc",
            "nice": false,
            "domain": [
              {"year": 2022, "month": 1, "date": 1, "utc": true},
              {"year": 2023, "month": 7, "date": 1, "utc": true}
            ]
          },
          "axis": {
            "title": null,
            "grid": true,
            "tickCount": {"interval": "month", "step": 1},
            "labelExpr": "['Jan','Feb','Mrz','Apr','Mai','Jun','Jul','Aug','Sep','Okt','Nov','Dez'][utcmonth(datum.value)] + ' ' + utcFormat(datum.value, '%y')",
            "labelAngle": 270,
            "labelAlign": "right",
            "labelBaseline": "middle",
            "labelFontSize": 40,
            "labelPadding": 14,
            "labelFlush": false,
            "labelOverlap": false,
            "labelBound": false,
            "tickSize": 13
          }
        },
        "y": {
          "field": "v",
          "type": "quantitative",
          "scale": {"domain": [10, 110], "nice": false, "zero": false},
          "axis": {
            "orient": "right",
            "values": [10, 20, 30, 40, 50, 60, 70, 80, 90, 100, 110],
            "grid": false,
            "tickSize": 12,
            "labelPadding": 25,
            "title": "CO₂-Zertifikatspreis in €/t",
            "titleAngle": 90,
            "titleAlign": "center",
            "titleBaseline": "alphabetic",
            "titleX": 117,
            "titleY": 512
          }
        },
        "color": {
          "field": "s",
          "type": "nominal",
          "scale": {
            "domain": ["Coal ARA 2024", "Rohöl (Brent) 2024", "CO2 2024"],
            "range": ["#000000", "#C00000", "#A6A6A6"]
          },
          "legend": {"title": null}
        }
      }
    },
    {
      "layer": [
        {
          "data": {"name": "oil"},
          "mark": {"type": "line", "strokeWidth": 4.5, "strokeJoin": "round"},
          "encoding": {
            "x": {"field": "d", "type": "temporal"},
            "y": {
              "field": "v",
              "type": "quantitative",
              "scale": {"domain": [30, 350], "nice": false, "zero": false},
              "axis": {
                "orient": "left",
                "values": [30, 60, 90, 120, 150, 180, 210, 240, 270, 300, 330],
                "grid": true,
                "tickSize": 11,
                "labelPadding": 31,
                "title": ["Kohlepreis in $/t", "Rohölpreis (Brent) in $/barrel"],
                "titleAngle": 270,
                "titleAlign": "center",
                "titleBaseline": "alphabetic",
                "titleLineHeight": 56,
                "titleX": -201,
                "titleY": 564
              }
            },
            "color": {"field": "s", "type": "nominal", "legend": {"title": null}}
          }
        },
        {
          "data": {"name": "coal"},
          "mark": {"type": "line", "strokeWidth": 5.5, "strokeJoin": "round"},
          "encoding": {
            "x": {"field": "d", "type": "temporal"},
            "y": {"field": "v", "type": "quantitative"},
            "color": {"field": "s", "type": "nominal", "legend": {"title": null}}
          }
        }
      ]
    }
  ],
  "resolve": {"scale": {"y": "independent"}, "axis": {"y": "independent"}},
  "config": {
    "font": "Liberation Sans",
    "view": {"stroke": "black", "strokeWidth": 6},
    "axis": {
      "domain": false,
      "labelFont": "Liberation Sans",
      "labelFontSize": 39,
      "labelColor": "black",
      "tickColor": "black",
      "tickWidth": 2,
      "gridColor": "black",
      "gridWidth": 2,
      "gridOpacity": 1,
      "titleFont": "Liberation Sans",
      "titleFontSize": 49,
      "titleFontWeight": "bold",
      "titleColor": "black"
    },
    "legend": {
      "orient": "none",
      "legendX": 25,
      "legendY": 31,
      "direction": "vertical",
      "fillColor": "white",
      "strokeColor": "black",
      "strokeWidth": 3,
      "padding": 8,
      "symbolOffset": 25,
      "symbolType": "stroke",
      "symbolSize": 5184,
      "symbolStrokeWidth": 6,
      "labelFont": "Liberation Sans",
      "labelFontSize": 49,
      "labelColor": "black",
      "labelOffset": 45,
      "labelLimit": 0,
      "rowPadding": 10
    }
  }
}
